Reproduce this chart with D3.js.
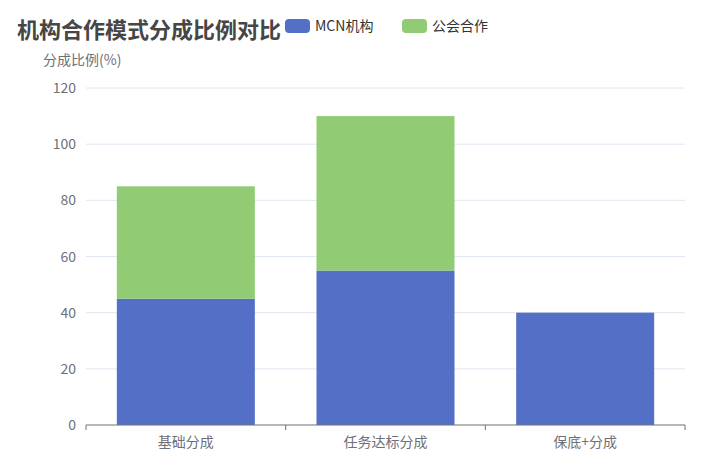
<!DOCTYPE html>
<html><head><meta charset="utf-8">
<script src="https://cdn.jsdelivr.net/npm/d3@7"></script>
<style>body{margin:0;background:#fff;font-family:"Noto Sans CJK SC","Noto Sans",sans-serif;}</style>
</head><body><svg id="c" width="704" height="476"></svg>
<script>
var categories = ["基础分成","任务达标分成","保底+分成"];
var seriesNames = ["MCN机构","公会合作"];
var mcn = [45,55,40];
var guild = [40,55,0];
var yTicks = [0,20,40,60,80,100,120];
var colors = ["#5470c6","#91cc75"];

var svg = d3.select("#c");
var pLeft = 86, pRight = 685, pTop = 88, pBottom = 425;
var x = d3.scaleBand().domain(categories).range([pLeft,pRight]);
var y = d3.scaleLinear().domain([0,120]).range([pBottom,pTop]);

// grid
svg.selectAll(".g").data(yTicks.slice(1)).enter().append("line")
	.attr("x1",pLeft).attr("x2",pRight).attr("y1",y).attr("y2",y)
	.attr("stroke","#e0e6f1");

svg.selectAll(".yl").data(yTicks).enter().append("text")
	.attr("x",pLeft-10).attr("y",function(d){return y(d)+5;})
	.attr("text-anchor","end").attr("fill","#6e7079").attr("font-size",14)
	.text(function(d){return d;});

var stack = d3.stack().keys([0,1]).value(function(d,k){return d[k];});
var rows = categories.map(function(c,i){return [mcn[i],guild[i]];});
var layers = stack(rows);
var bw = 138;
layers.forEach(function(layer,li){
	svg.selectAll(".b"+li).data(layer).enter().append("rect")
		.attr("x",function(d,i){return x(categories[i])+(x.bandwidth()-bw)/2;})
		.attr("width",bw)
		.attr("y",function(d){return y(d[1]);})
		.attr("height",function(d){return y(d[0])-y(d[1]);})
		.attr("fill",colors[li]);
});

// x axis
svg.append("line").attr("x1",pLeft).attr("x2",pRight).attr("y1",pBottom).attr("y2",pBottom).attr("stroke","#6e7079");
var edges = categories.map(function(c){return x(c);}).concat([pRight]);
svg.selectAll(".tk").data(edges).enter().append("line")
	.attr("x1",function(d){return d;}).attr("x2",function(d){return d;})
	.attr("y1",pBottom).attr("y2",pBottom+5).attr("stroke","#6e7079");
svg.selectAll(".xl").data(categories).enter().append("text")
	.attr("x",function(d){return x(d)+x.bandwidth()/2;}).attr("y",pBottom+22)
	.attr("text-anchor","middle").attr("fill","#6e7079").attr("font-size",14)
	.text(function(d){return d;});

svg.append("text").attr("x",43).attr("y",65).attr("fill","#6e7079").attr("font-size",14).text("分成比例(%)");

svg.append("text").attr("x",17).attr("y",38).attr("fill","#464646").attr("font-size",22).attr("font-weight","bold").text("机构合作模式分成比例对比");

// legend
var lx = [285,402];
seriesNames.forEach(function(n,i){
	svg.append("rect").attr("x",lx[i]).attr("y",19).attr("width",25).attr("height",14).attr("rx",4).attr("fill",colors[i]);
	svg.append("text").attr("x",lx[i]+30).attr("y",31).attr("fill","#333").attr("font-size",14).text(n);
});
</script></body></html>
